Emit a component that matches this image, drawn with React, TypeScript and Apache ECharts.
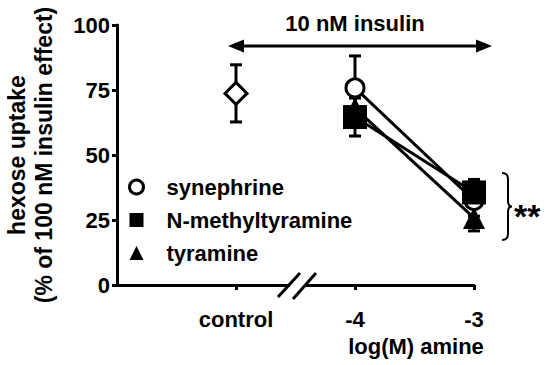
import React, { useEffect, useRef } from "react";
import * as echarts from "echarts";

// ---- data ----
const doseX = [-4, -3]; // log(M) amine
const controlX = -5; // position of "control" on the x scale
const xTickValues = [-5, -4, -3];
const xTickLabels = ["control", "-4", "-3"];
const yTicks = [0, 25, 50, 75, 100];

const controlMean = 73.7;
const controlErr = 11;

const synephrine = [75.8, 32.5];
const synephrineErr = [12.3, 6];
const nMethyltyramine = [64.6, 35.6];
const nMethyltyramineErr = [7.3, 5];
const tyramine = [68, 25.8];
const tyramineErr = [7, 5];

const seriesNames = ["synephrine", "N-methyltyramine", "tyramine"];

const FONT = '"Liberation Sans", Arial, Helvetica, sans-serif';

const bracePath =
  "M0,0 C4,0 6,2 6,6 L6,28 C6,31.5 7.5,33.5 10,33.5 C7.5,33.5 6,35.5 6,39 L6,61 C6,65 4,67 0,67";
let braceRegistered = false;

export default function App() {
  const ref = useRef<HTMLDivElement>(null);

  useEffect(() => {
    if (!ref.current) return;
    if (!braceRegistered) {
      echarts.graphic.registerShape("brace", echarts.graphic.extendPath(bracePath, {}));
      braceRegistered = true;
    }
    const chart = echarts.init(ref.current, null, { renderer: "svg" });

    const errData: number[][] = [[controlX, controlMean - controlErr, controlMean + controlErr]];
    const groups = [
      [synephrine, synephrineErr],
      [nMethyltyramine, nMethyltyramineErr],
      [tyramine, tyramineErr],
    ];
    groups.forEach(([vals, errs]) => {
      doseX.forEach((x, i) => errData.push([x, vals[i] - errs[i], vals[i] + errs[i]]));
    });

    const pair = (vals: number[]) => doseX.map((x, i) => [x, vals[i]]);

    const lineStyle = { color: "#000", width: 3 };

    chart.setOption({
      animation: false,
      backgroundColor: "#fff",
      textStyle: { fontFamily: FONT, color: "#000" },
      grid: { left: 117, right: 76, top: 25, bottom: 80, outerBoundsMode: "none" },
      xAxis: {
        type: "value",
        min: -6,
        max: -3,
        interval: 1,
        splitLine: { show: false },
        axisLine: { lineStyle: { color: "#000", width: 3 } },
        axisTick: {
          show: true,
          customValues: xTickValues,
          length: 5,
          lineStyle: { color: "#000", width: 3 },
        },
        axisLabel: {
          customValues: xTickValues,
          formatter: (v: number) => {
            const i = xTickValues.indexOf(v);
            return i >= 0 ? xTickLabels[i] : "";
          },
          fontSize: 22,
          fontWeight: "bold",
          fontFamily: FONT,
          color: "#000",
          margin: 23,
        },
      },
      yAxis: {
        type: "value",
        min: yTicks[0],
        max: yTicks[yTicks.length - 1],
        interval: 25,
        splitLine: { show: false },
        axisLine: { show: true, lineStyle: { color: "#000", width: 3 } },
        axisTick: { show: true, length: 5, lineStyle: { color: "#000", width: 3 } },
        axisLabel: {
          fontSize: 22,
          fontWeight: "bold",
          fontFamily: FONT,
          color: "#000",
          margin: 7,
        },
        name: "hexose uptake\n(% of 100 nM insulin effect)",
        nameLocation: "middle",
        nameRotate: 90,
        nameGap: 60,
        nameTextStyle: {
          fontSize: 23,
          fontWeight: "bold",
          fontFamily: FONT,
          color: "#000",
          lineHeight: 27,
        },
      },
      legend: {
        orient: "vertical",
        left: 128,
        top: 176,
        padding: 0,
        itemWidth: 14,
        itemHeight: 14,
        itemGap: 11,
        textStyle: {
          fontSize: 22,
          fontWeight: "bold",
          fontFamily: FONT,
          color: "#000",
          padding: [0, 0, 0, 18],
          lineHeight: 22,
        },
        data: [
          { name: seriesNames[0], icon: "circle", itemStyle: { color: "#fff", borderColor: "#000", borderWidth: 3 } },
          { name: seriesNames[1], icon: "rect", itemStyle: { color: "#000", borderWidth: 0 } },
          { name: seriesNames[2], icon: "triangle", itemStyle: { color: "#000", borderWidth: 0 } },
        ],
      },
      series: [
        {
          type: "custom",
          name: "err",
          z: 1,
          data: errData,
          renderItem: (params: any, api: any) => {
            const x = api.value(0);
            const lo = api.coord([x, api.value(1)]);
            const hi = api.coord([x, api.value(2)]);
            const w = 6;
            const st = { stroke: "#000", lineWidth: 3 };
            return {
              type: "group",
              children: [
                { type: "line", shape: { x1: lo[0], y1: lo[1], x2: hi[0], y2: hi[1] }, style: st },
                { type: "line", shape: { x1: lo[0] - w, y1: lo[1], x2: lo[0] + w, y2: lo[1] }, style: st },
                { type: "line", shape: { x1: hi[0] - w, y1: hi[1], x2: hi[0] + w, y2: hi[1] }, style: st },
              ],
            };
          },
        },
        {
          type: "scatter",
          name: "control",
          z: 3,
          symbol: "diamond",
          symbolSize: 22,
          itemStyle: { color: "#fff", borderColor: "#000", borderWidth: 3, opacity: 1 },
          data: [[controlX, controlMean]],
        },
        {
          type: "line",
          name: seriesNames[2],
          z: 2,
          symbol: "triangle",
          symbolSize: 22,
          itemStyle: { color: "#000", borderWidth: 0 },
          lineStyle,
          data: pair(tyramine),
        },
        {
          type: "line",
          name: seriesNames[0],
          z: 3,
          symbol: "circle",
          symbolSize: 18,
          itemStyle: { color: "#fff", borderColor: "#000", borderWidth: 3 },
          lineStyle,
          data: pair(synephrine),
        },
        {
          type: "line",
          name: seriesNames[1],
          z: 4,
          symbol: "rect",
          symbolSize: 24,
          itemStyle: { color: "#000", borderWidth: 0 },
          lineStyle,
          data: pair(nMethyltyramine),
        },
      ],
      graphic: [
        // insulin arrow
        { type: "line", shape: { x1: 238, y1: 46, x2: 482, y2: 46 }, style: { stroke: "#000", lineWidth: 3 } },
        { type: "polygon", shape: { points: [[228, 46], [244, 39.5], [244, 52.5]] }, style: { fill: "#000" } },
        { type: "polygon", shape: { points: [[492, 46], [476, 39.5], [476, 52.5]] }, style: { fill: "#000" } },
        {
          type: "text",
          x: 355,
          y: 23,
          style: {
            text: "10 nM insulin",
            fontSize: 22,
            fontWeight: "bold",
            fontFamily: FONT,
            fill: "#000",
            align: "center",
            verticalAlign: "middle",
          },
        },
        // axis break
        { type: "rect", shape: { x: 290, y: 281, width: 15, height: 8 }, style: { fill: "#fff" }, z: 100 },
        { type: "line", shape: { x1: 278, y1: 297, x2: 300, y2: 273 }, style: { stroke: "#000", lineWidth: 3 }, z: 101 },
        { type: "line", shape: { x1: 293, y1: 299, x2: 316, y2: 273 }, style: { stroke: "#000", lineWidth: 3 }, z: 101 },
        // x axis title
        {
          type: "text",
          x: 416,
          y: 346,
          style: {
            text: "log(M) amine",
            fontSize: 22,
            fontWeight: "bold",
            fontFamily: FONT,
            fill: "#000",
            align: "center",
            verticalAlign: "middle",
          },
        },
        // significance brace
        { type: "brace", x: 502, y: 173, style: { stroke: "#000", fill: "none", lineWidth: 2 } },
        {
          type: "text",
          x: 514,
          y: 216,
          style: {
            text: "**",
            fontSize: 34,
            fontWeight: "bold",
            fontFamily: FONT,
            fill: "#000",
            align: "left",
            verticalAlign: "middle",
          },
        },
      ],
    });

    return () => chart.dispose();
  }, []);

  return (
    <div
      ref={ref}
      style={{ position: "fixed", left: 0, top: 0, width: 550, height: 365, background: "#fff" }}
    />
  );
}
